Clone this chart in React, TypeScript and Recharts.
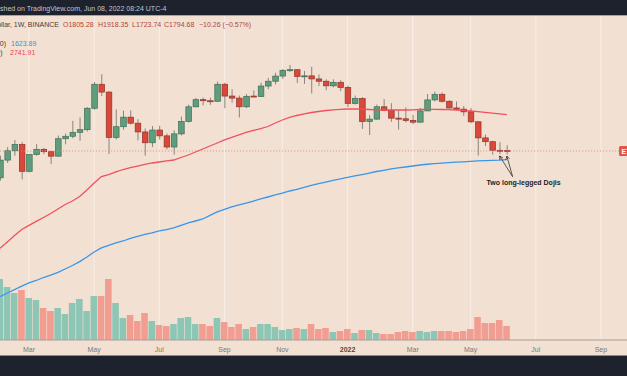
import React from 'react'
import {
  ComposedChart,
  Bar,
  Line,
  XAxis,
  YAxis,
  CartesianGrid,
  ReferenceLine,
  Cell,
} from 'recharts'

// ETH/USD weekly, first bar = week of 1 Feb 2021 (index -4), last = week of 6 Jun 2022 (index 66)
const firstWeek = -4

const opens = [
  1314, 1614, 1800, 1935, 1417, 1720, 1830, 1780, 1690, 2070, 2130, 2230, 2300, 2950, 3900, 3560,
  2100, 2380, 2660, 2480, 2240, 1975, 2290, 2140, 1880, 2190, 2530, 3000, 3260, 3220, 3200, 3900,
  3400, 3320, 3000, 3400, 3380, 3820, 4040, 4290, 4580, 4620, 4270, 4300, 4150, 4040, 3830, 3990,
  3760, 3120, 3300, 2530, 2600, 3000, 2880, 2630, 2610, 2560, 2510, 2860, 3250, 3470, 3200, 2960,
  2920, 2830, 2520, 2090, 2000, 1810, 1805.28,
]
const highs = [
  1700, 1880, 2040, 1990, 1730, 1945, 1860, 1800, 2150, 2200, 2550, 2650, 2990, 4000, 4380, 3600,
  2910, 2870, 2880, 2600, 2330, 2400, 2410, 2200, 2280, 2680, 3080, 3330, 3340, 3340, 4030, 3970,
  3680, 3420, 3480, 3630, 3970, 4200, 4460, 4660, 4878, 4640, 4550, 4780, 4370, 4130, 4130, 4090,
  3840, 3420, 3360, 2720, 3080, 3280, 3130, 2870, 2980, 2730, 2960, 3480, 3580, 3550, 3240, 3190,
  3030, 2960, 2540, 2170, 2020, 1990, 1918.35,
]
const lows = [
  1270, 1560, 1700, 1290, 1400, 1700, 1730, 1540, 1680, 1940, 2080, 2020, 2250, 2900, 3400, 1730,
  2050, 2300, 2440, 2030, 1700, 1880, 2050, 1830, 1720, 2150, 2500, 2980, 3050, 3070, 3180, 2950,
  3150, 2650, 2960, 3370, 3370, 3680, 3890, 4150, 4500, 3960, 3920, 3500, 3820, 3640, 3760, 3600,
  2990, 3080, 2320, 2160, 2580, 2850, 2520, 2300, 2500, 2450, 2500, 2860, 3200, 3150, 2950, 2870,
  2700, 2480, 1700, 1900, 1720, 1730, 1723.74,
]
const closes = [
  1614, 1800, 1935, 1417, 1720, 1830, 1780, 1690, 2070, 2130, 2230, 2300, 2950, 3900, 3560, 2100,
  2380, 2660, 2480, 2240, 1975, 2290, 2140, 1880, 2190, 2530, 3000, 3260, 3220, 3200, 3900, 3400,
  3320, 3000, 3390, 3380, 3820, 4040, 4290, 4580, 4620, 4270, 4300, 4150, 4040, 3830, 3990, 3760,
  3120, 3300, 2530, 2600, 3000, 2880, 2630, 2610, 2560, 2510, 2860, 3250, 3470, 3200, 2960, 2920,
  2830, 2520, 2090, 2000, 1810, 1805.28, 1794.68,
]
// weekly volume, millions
const volumes = [
  6.1, 5.3, 4.7, 5.0, 4.2, 4.0, 3.2, 2.9, 3.2, 2.6, 3.7, 4.1, 2.9, 4.4, 4.4, 6.1,
  3.7, 2.2, 2.5, 1.9, 2.7, 1.9, 1.5, 1.4, 1.6, 2.2, 2.3, 1.6, 1.6, 1.4, 2.2, 1.8,
  1.3, 1.6, 1.1, 1.3, 1.6, 1.6, 1.3, 1.0, 1.1, 1.2, 1.1, 1.6, 1.1, 1.2, 0.8, 0.9,
  1.1, 0.7, 1.0, 1.0, 0.7, 0.6, 0.6, 0.8, 0.9, 0.8, 0.9, 0.8, 0.9, 0.9, 0.9, 0.8,
  0.9, 1.1, 2.3, 1.7, 1.7, 2.0, 1.4,
]
const ma50 = [
  579, 623, 672, 720, 755, 791, 828, 868, 914, 963, 1003, 1057, 1140, 1237, 1334, 1365,
  1406, 1447, 1481, 1507, 1534, 1561, 1579, 1598, 1616, 1664, 1713, 1774, 1837, 1902, 1970, 2040,
  2100, 2162, 2226, 2278, 2331, 2386, 2485, 2574, 2650, 2712, 2760, 2808, 2841, 2874, 2898, 2915,
  2925, 2925, 2918, 2908, 2898, 2891, 2891, 2891, 2891, 2898, 2908, 2915, 2915, 2908, 2901, 2891,
  2880, 2865, 2840, 2810, 2785, 2762, 2741.91,
]
const ma200 = [
  330, 344, 358, 373, 387, 398, 412, 424, 437, 455, 474, 496, 523, 554, 581, 598,
  616, 630, 649, 664, 680, 692, 708, 720, 733, 755, 777, 795, 814, 848, 883, 909,
  936, 958, 980, 1003, 1027, 1051, 1076, 1101, 1127, 1150, 1174, 1202, 1227, 1251, 1276, 1296,
  1319, 1342, 1365, 1389, 1414, 1434, 1456, 1473, 1490, 1507, 1525, 1538, 1548, 1557, 1566, 1575,
  1583, 1590, 1598, 1603, 1609, 1614, 1623.89,
]

const monthTicks = [0, 9, 18, 27, 35, 44, 53, 61, 70, 79]
const monthLabels = ['Mar', 'May', 'Jul', 'Sep', 'Nov', '2022', 'Mar', 'May', 'Jul', 'Sep']
const gridPrices = [6840, 5700, 4550, 3510, 2760, 2145, 1730, 1395, 1120, 895, 745, 590, 477, 385, 311, 251]

const lastClose = 1794.68
const dojiLabelPoint = { week: 66.8, price: 1331 }
const dojiTips = [
  { week: 65, price: 1693 },
  { week: 66, price: 1693 },
]

const FONT = '"Liberation Sans", Arial, sans-serif'
const GREEN = '#5f9e7d'
const GREEN_EDGE = '#3d6d55'
const RED = '#d8493b'
const RED_EDGE = '#943229'
const VOL_UP = '#8ec6b6'
const VOL_DOWN = '#f29d92'
const GRID = '#f8eee7'

const rows = opens.map((o, k) => ({
  i: k + firstWeek,
  open: o,
  high: highs[k],
  low: lows[k],
  close: closes[k],
  range: [lows[k], highs[k]],
  volume: volumes[k],
  ma50: ma50[k],
  ma200: ma200[k],
}))

function Candle(props: any) {
  const { x, y, width, height, payload } = props
  if (!payload || y == null || height == null) return null
  const cx = x + width / 2
  const yTop = Math.min(y, y + height)
  const yBot = Math.max(y, y + height)
  const lh = Math.log(payload.high)
  const ll = Math.log(payload.low)
  const py = (v: number) => yTop + ((yBot - yTop) * (lh - Math.log(v))) / (lh - ll || 1)
  const up = payload.close >= payload.open
  const top = py(Math.max(payload.open, payload.close))
  const bot = py(Math.min(payload.open, payload.close))
  const bw = 5.6
  return (
    <g>
      <line x1={cx} x2={cx} y1={yTop} y2={yBot} stroke="#8a837e" strokeWidth={1} />
      <rect
        x={cx - bw / 2}
        y={top}
        width={bw}
        height={Math.max(bot - top, 1)}
        fill={up ? GREEN : RED}
        stroke={up ? GREEN_EDGE : RED_EDGE}
        strokeWidth={0.7}
      />
    </g>
  )
}

function PriceLine(p: any) {
  const xl = Math.min(p.x1, p.x2)
  const xr = Math.max(p.x1, p.x2)
  const yy = p.y1
  return (
    <g>
      <line x1={xl} y1={yy} x2={xr - 8} y2={yy} stroke="#d98a80" strokeWidth={0.8} strokeDasharray="1.2 1.8" />
      <rect x={xr - 8} y={yy - 5} width={40} height={10} rx={1.5} fill="#e0574a" />
      <text x={xr - 5.5} y={yy + 2.6} fontSize={7} fontWeight={700} fill="#fff" fontFamily={FONT}>
        ETHUSD
      </text>
    </g>
  )
}

function arrowHead(x1: number, y1: number, x2: number, y2: number) {
  const a = Math.atan2(y2 - y1, x2 - x1)
  const len = 4
  const s = 0.5
  return `${x2 - len * Math.cos(a - s)},${y2 - len * Math.sin(a - s)} ${x2},${y2} ${x2 - len * Math.cos(a + s)},${y2 - len * Math.sin(a + s)}`
}

function Arrow(p: any) {
  return (
    <g>
      <line x1={p.x1} y1={p.y1} x2={p.x2} y2={p.y2} stroke="#333" strokeWidth={0.8} />
      <polyline points={arrowHead(p.x1, p.y1, p.x2, p.y2)} fill="none" stroke="#333" strokeWidth={0.8} />
    </g>
  )
}

function ArrowWithText(p: any) {
  return (
    <g>
      <Arrow {...p} />
      <text
        x={p.x1 + 11}
        y={p.y1 + 8.6}
        textAnchor="middle"
        fontSize={7}
        fontWeight={700}
        fill="#222"
        fontFamily={FONT}
      >
        Two long-legged Dojis
      </text>
    </g>
  )
}

function MonthTick(props: any) {
  const { x, y, payload } = props
  const label = monthLabels[monthTicks.indexOf(payload.value)] ?? ''
  const bold = label === '2022'
  return (
    <text
      x={x}
      y={y + 11.5}
      textAnchor="middle"
      fontSize={7}
      fontWeight={bold ? 700 : 400}
      fill={bold ? '#4e4945' : '#7c7773'}
      fontFamily={FONT}
    >
      {label}
    </text>
  )
}

export default function App() {
  return (
    <div
      style={{
        position: 'absolute',
        left: 0,
        top: 0,
        width: 627,
        height: 376,
        background: '#1e222d',
        overflow: 'hidden',
        fontFamily: FONT,
      }}
    >
      <div style={{ position: 'absolute', left: 0, top: 15, width: 627, height: 341, background: '#f2e1d3', borderTop: '1px solid #a9a39e', borderBottom: '1px solid #8f8a86', boxSizing: 'border-box' }} />
      <div style={{ position: 'absolute', left: 0, top: 0 }}>
        <ComposedChart width={627} height={376} data={rows} margin={{ top: 16, right: 0, bottom: 20, left: 0 }}>
          <CartesianGrid
            xAxisId="m"
            yAxisId="p"
            stroke={GRID}
            strokeWidth={1}
            horizontalValues={gridPrices}
            verticalValues={monthTicks}
          />
          <XAxis
            xAxisId="m"
            dataKey="i"
            type="number"
            domain={[-4.006, 82.6]}
            allowDataOverflow
            ticks={monthTicks}
            interval={0}
            height={16}
            tickLine={false}
            tickSize={0}
            tickMargin={0}
            axisLine={{ stroke: '#a59f9a', strokeWidth: 1.2 }}
            tick={<MonthTick />}
          />
          <XAxis xAxisId="v" dataKey="i" type="number" domain={[-4.006, 82.6]} allowDataOverflow hide />
          <YAxis
            yAxisId="p"
            scale="log"
            type="number"
            domain={[199.2, 8627]}
            ticks={gridPrices}
            allowDataOverflow
            width={0}
            orientation="right"
            tick={false}
            tickLine={false}
            axisLine={false}
          />
          <YAxis yAxisId="vol" type="number" domain={[0, 32.4]} allowDataOverflow hide />

          <Bar xAxisId="v" yAxisId="vol" dataKey="volume" barSize={6.6} isAnimationActive={false}>
            {rows.map((r) => (
              <Cell key={`v-${r.i}`} fill={r.close >= r.open ? VOL_UP : VOL_DOWN} />
            ))}
          </Bar>

          <ReferenceLine xAxisId="m" yAxisId="p" y={lastClose} shape={PriceLine} />

          <Bar
            xAxisId="m"
            yAxisId="p"
            dataKey="range"
            barSize={6}
            isAnimationActive={false}
            shape={(props: any) => <Candle {...props} />}
          />

          <Line xAxisId="m" yAxisId="p" dataKey="ma50" stroke="#f0505c" strokeWidth={1.3} dot={false} activeDot={false} isAnimationActive={false} />
          <Line xAxisId="m" yAxisId="p" dataKey="ma200" stroke="#3a96e8" strokeWidth={1.3} dot={false} activeDot={false} isAnimationActive={false} />

          {dojiTips.map((t, k) => (
            <ReferenceLine
              key={`doji-${k}`}
              xAxisId="m"
              yAxisId="p"
              segment={[
                { x: dojiLabelPoint.week, y: dojiLabelPoint.price },
                { x: t.week, y: t.price },
              ]}
              shape={k === 0 ? ArrowWithText : Arrow}
            />
          ))}
        </ComposedChart>
      </div>

      <svg style={{ position: 'absolute', left: 0, top: 0 }} width={627} height={60}>
        <g fontFamily={FONT} fontSize={7}>
          <text x={0} y={10.6} fill="#c3c5cc">shed on TradingView.com, Jun 08, 2022 08:24 UTC-4</text>

          <text x={59} y={26.8} textAnchor="end" fill="#4a3b36">Ethereum / U.S. Dollar, 1W, BINANCE</text>
          <text x={63} y={26.8} fill="#b0463b">O1805.28</text>
          <text x={98} y={26.8} fill="#b0463b">H1918.35</text>
          <text x={132} y={26.8} fill="#b0463b">L1723.74</text>
          <text x={164} y={26.8} fill="#b0463b">C1794.68</text>
          <text x={199} y={26.8} fill="#b0463b">−10.26 (−0.57%)</text>

          <text x={6} y={45.5} textAnchor="end" fill="#4a3b36">MA (200)</text>
          <text x={11} y={45.5} fill="#3a8fe0">1623.89</text>

          <text x={2.5} y={55} textAnchor="end" fill="#4a3b36">MA (50)</text>
          <text x={10} y={55} fill="#f0444f">2741.91</text>
        </g>
      </svg>
    </div>
  )
}
